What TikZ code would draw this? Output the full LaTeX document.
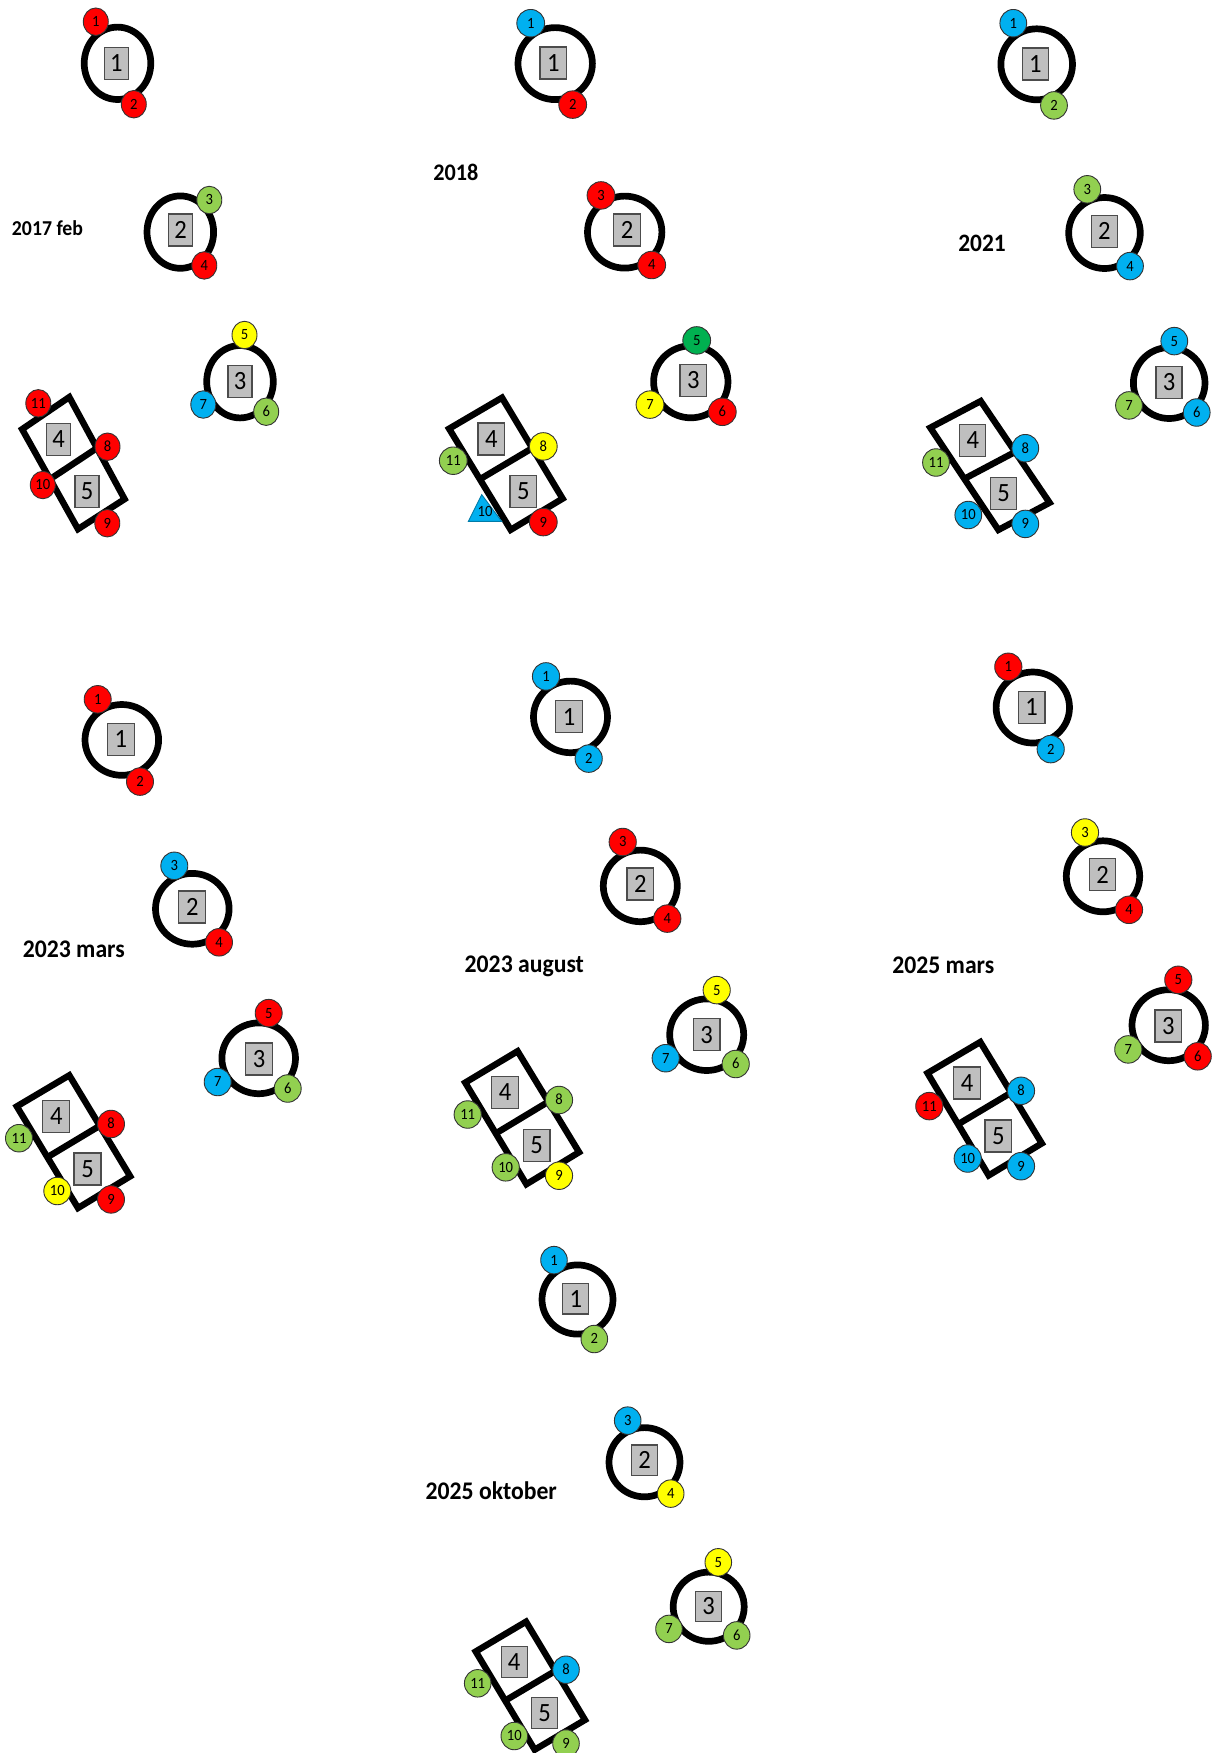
\documentclass[tikz,border=0pt]{standalone}
\usepackage{fontspec}
\setmainfont{Carlito}
\usetikzlibrary{shapes.geometric,calc}
\definecolor{cred}{HTML}{FF0000}
\definecolor{cgreen}{HTML}{92D050}
\definecolor{cblue}{HTML}{00B0F0}
\definecolor{cyellow}{HTML}{FFFF00}
\definecolor{cdgreen}{HTML}{00B050}
\definecolor{sqgray}{HTML}{BFBFBF}
\newcommand\DiaRing[3]{\node[ring] (#1) at (#2,#3) {};}
\newcommand\DiaSq[4]{\node[sq] (#1) at (#2,#3) {#4};}
\newcommand\DiaDot[5]{\node[dot,fill=#5] (#1) at (#2,#3) {#4};}
\newcommand\DiaRect[9]{%
  \coordinate (#1T) at (#2,#3);
  \coordinate (#1R) at (#4,#5);
  \coordinate (#1B) at (#6,#7);
  \coordinate (#1L) at (#8,#9);
  \draw[frame] (#1T) -- (#1R) -- (#1B) -- (#1L) -- cycle;
  \draw[frame] ($(#1L)!0.5!(#1B)$) -- ($(#1T)!0.5!(#1R)$);}
\newcommand\Tall[1]{\scalebox{1}[1.07]{#1}}
\begin{document}
\begin{tikzpicture}[x=0.5pt,y=-0.5pt,
  ringbase/.style={ellipse,draw=black,line width=3.35pt,inner sep=0pt},
  sqbase/.style={rectangle,draw=black!70,fill=sqgray,line width=0.6pt,inner sep=0pt,minimum height=16pt,font=\fontsize{12.3pt}{12pt}\selectfont,text height=8.3pt,text depth=0pt},
  dotbase/.style={ellipse,draw=black!80,line width=0.45pt,inner sep=0pt,minimum height=13.75pt,font=\fontsize{7.3pt}{7pt}\selectfont,text height=4.9pt,text depth=0pt},
  frame/.style={draw=black,line width=3.2pt,line join=miter},
  yearlabel/.style={inner sep=0pt,text depth=0pt}]
\fill[white] (0,0) rectangle (1216,1753);
\useasboundingbox (0,0) rectangle (1216,1753);

% ---------- Panel 1: 2017 feb ----------
\begin{scope}[ring/.style={ringbase,minimum width=33.3pt,minimum height=36.2pt},
  sq/.style={sqbase,minimum width=12pt}, dot/.style={dotbase,minimum width=12.5pt}]
\DiaRect{p1r}{69.3}{397.1}{124.6}{499.1}{78}{529.1}{22.1}{429.2}
\DiaRing{p1a}{117.5}{63.3}
\DiaRing{p1b}{180.3}{232.1}
\DiaRing{p1c}{240}{381.7}
\DiaSq{p1s1}{116.3}{63.2}{\Tall{1}}
\DiaSq{p1s2}{180.5}{230}{\Tall{2}}
\DiaSq{p1s3}{240}{381.2}{\Tall{3}}
\DiaSq{p1s4}{58.7}{439.2}{\Tall{4}}
\DiaSq{p1s5}{87}{491.5}{\Tall{5}}
\DiaDot{p1d1}{95.8}{21.7}{\Tall{1}}{cred}
\DiaDot{p1d2}{133.8}{104.2}{\Tall{2}}{cred}
\DiaDot{p1d3}{209.3}{200}{\Tall{3}}{cgreen}
\DiaDot{p1d4}{204.3}{265.4}{\Tall{4}}{cred}
\DiaDot{p1d5}{244.5}{335}{\Tall{5}}{cyellow}
\DiaDot{p1d6}{266.2}{411.7}{\Tall{6}}{cgreen}
\DiaDot{p1d7}{203.3}{404.5}{\Tall{7}}{cblue}
\DiaDot{p1d8}{107.5}{446.7}{\Tall{8}}{cred}
\DiaDot{p1d9}{107.3}{523.2}{\Tall{9}}{cred}
\DiaDot{p1d10}{42.8}{485}{\Tall{10}}{cred}
\DiaDot{p1d11}{38.3}{403.3}{\Tall{11}}{cred}
\node[yearlabel,font=\bfseries\fontsize{9.9pt}{10pt}\selectfont,text height=6.8pt] (lab1) at (47.5,228.6) {\Tall{2017 feb}};
\end{scope}

% ---------- Panel 2: 2018 ----------
\begin{scope}[ring/.style={ringbase,minimum width=37.2pt,minimum height=36pt},
  sq/.style={sqbase,minimum width=13.35pt}, dot/.style={dotbase,minimum width=13.9pt}]
\DiaRect{p2r}{502}{397.7}{562.6}{498.6}{510.7}{529.8}{449.1}{428.7}
\DiaRing{p2a}{555.2}{63.6}
\DiaRing{p2b}{624.7}{232.1}
\DiaRing{p2c}{690.8}{381.8}
\DiaSq{p2s1}{553.3}{63}{\Tall{1}}
\DiaSq{p2s2}{627}{230}{\Tall{2}}
\DiaSq{p2s3}{693.3}{380.4}{\Tall{3}}
\DiaSq{p2s4}{491.3}{438.9}{\Tall{4}}
\DiaSq{p2s5}{523.3}{491.4}{\Tall{5}}
\DiaDot{p2d1}{530.7}{23.2}{\Tall{1}}{cblue}
\DiaDot{p2d2}{572.7}{104.6}{\Tall{2}}{cred}
\DiaDot{p2d3}{601}{195.4}{\Tall{3}}{cred}
\DiaDot{p2d4}{651.7}{265}{\Tall{4}}{cred}
\DiaDot{p2d5}{696.7}{340.4}{\Tall{5}}{cdgreen}
\DiaDot{p2d6}{722.3}{411.8}{\Tall{6}}{cred}
\DiaDot{p2d7}{650}{404.6}{\Tall{7}}{cyellow}
\DiaDot{p2d8}{543.3}{446.4}{\Tall{8}}{cyellow}
\DiaDot{p2d9}{543.3}{522.1}{\Tall{9}}{cred}
\DiaDot{p2d11}{453.3}{460.7}{\Tall{11}}{cgreen}
\coordinate (p2t1) at (481.7,494.6);
\coordinate (p2t2) at (501.7,521.4);
\coordinate (p2t3) at (468.3,521.4);
\filldraw[fill=cblue,draw=cblue!70!black,line width=0.45pt] (p2t1) -- (p2t2) -- (p2t3) -- cycle;
\node[inner sep=0pt,font=\fontsize{7.3pt}{7pt}\selectfont,text height=4.9pt,text depth=0pt] (p2d10) at (485,511.4) {\Tall{10}};
\node[yearlabel,font=\bfseries\fontsize{11.1pt}{12pt}\selectfont,text height=7.6pt] (lab2) at (455.8,173.2) {\Tall{2018}};
\end{scope}

% ---------- Panel 3: 2021 ----------
\begin{scope}[ring/.style={ringbase,minimum width=35.8pt,minimum height=35.5pt},
  sq/.style={sqbase,minimum width=13pt}, dot/.style={dotbase,minimum width=13.4pt}]
\DiaRect{p3r}{980.7}{401.1}{1049.6}{502.7}{998.4}{529.9}{930.3}{427.7}
\DiaRing{p3a}{1036.7}{64.3}
\DiaRing{p3b}{1104.5}{233}
\DiaRing{p3c}{1169.2}{383}
\DiaSq{p3s1}{1035.3}{63.9}{\Tall{1}}
\DiaSq{p3s2}{1104.3}{231.4}{\Tall{2}}
\DiaSq{p3s3}{1169}{382.1}{\Tall{3}}
\DiaSq{p3s4}{972.8}{440.4}{\Tall{4}}
\DiaSq{p3s5}{1003.7}{493.2}{\Tall{5}}
\DiaDot{p3d1}{1013.3}{23.2}{\Tall{1}}{cblue}
\DiaDot{p3d2}{1054}{105.4}{\Tall{2}}{cgreen}
\DiaDot{p3d3}{1087.3}{189.3}{\Tall{3}}{cgreen}
\DiaDot{p3d4}{1130}{266.1}{\Tall{4}}{cblue}
\DiaDot{p3d5}{1174.3}{341.1}{\Tall{5}}{cblue}
\DiaDot{p3d6}{1196.7}{412.5}{\Tall{6}}{cblue}
\DiaDot{p3d7}{1129}{405.4}{\Tall{7}}{cgreen}
\DiaDot{p3d8}{1025.3}{448.2}{\Tall{8}}{cblue}
\DiaDot{p3d9}{1025.3}{523.9}{\Tall{9}}{cblue}
\DiaDot{p3d10}{968.3}{515}{\Tall{10}}{cblue}
\DiaDot{p3d11}{936}{462.5}{\Tall{11}}{cgreen}
\node[yearlabel,font=\bfseries\fontsize{11.7pt}{12pt}\selectfont,text height=8pt] (lab3) at (982,243.9) {\Tall{2021}};
\end{scope}

% ---------- Panel 4: 2023 mars ----------
\begin{scope}[ring/.style={ringbase,minimum width=36.8pt,minimum height=35.4pt},
  sq/.style={sqbase,minimum width=13.5pt}, dot/.style={dotbase,minimum width=13.5pt}]
\DiaRect{p4r}{69.3}{1075.3}{130.2}{1176.3}{78}{1208}{16.8}{1106.4}
\DiaRing{p4a}{121.8}{739.9}
\DiaRing{p4b}{192.3}{908.8}
\DiaRing{p4c}{258.7}{1058.3}
\DiaSq{p4s1}{120.8}{739.5}{\Tall{1}}
\DiaSq{p4s2}{192.3}{906.9}{\Tall{2}}
\DiaSq{p4s3}{259}{1059}{\Tall{3}}
\DiaSq{p4s4}{56.3}{1116.6}{\Tall{4}}
\DiaSq{p4s5}{87.5}{1169}{\Tall{5}}
\DiaDot{p4d1}{97.7}{699.3}{\Tall{1}}{cred}
\DiaDot{p4d2}{140}{781.6}{\Tall{2}}{cred}
\DiaDot{p4d3}{174.3}{865.8}{\Tall{3}}{cblue}
\DiaDot{p4d4}{219}{942.3}{\Tall{4}}{cred}
\DiaDot{p4d5}{268.7}{1013.1}{\Tall{5}}{cred}
\DiaDot{p4d6}{287.7}{1088.5}{\Tall{6}}{cgreen}
\DiaDot{p4d7}{217.7}{1082}{\Tall{7}}{cblue}
\DiaDot{p4d8}{111}{1124}{\Tall{8}}{cred}
\DiaDot{p4d9}{111}{1199.4}{\Tall{9}}{cred}
\DiaDot{p4d10}{57.3}{1191}{\Tall{10}}{cyellow}
\DiaDot{p4d11}{19}{1138.2}{\Tall{11}}{cgreen}
\node[yearlabel,font=\bfseries\fontsize{11.85pt}{12pt}\selectfont,text height=8.1pt] (lab4) at (73.8,949.2) {\Tall{2023 mars}};
\end{scope}

% ---------- Panel 5: 2023 august ----------
\begin{scope}[ring/.style={ringbase,minimum width=37pt,minimum height=35.8pt},
  sq/.style={sqbase,minimum width=13.35pt}, dot/.style={dotbase,minimum width=13.6pt}]
\DiaRect{p5r}{517.6}{1051.2}{579.1}{1152.2}{526.4}{1184.2}{465.2}{1082.6}
\DiaRing{p5a}{570.5}{716.9}
\DiaRing{p5b}{640.3}{885.9}
\DiaRing{p5c}{706.7}{1034.7}
\DiaSq{p5s1}{569}{716.7}{\Tall{1}}
\DiaSq{p5s2}{640.3}{883.9}{\Tall{2}}
\DiaSq{p5s3}{706.7}{1034.7}{\Tall{3}}
\DiaSq{p5s4}{505}{1092.5}{\Tall{4}}
\DiaSq{p5s5}{536.7}{1145.5}{\Tall{5}}
\DiaDot{p5d1}{546}{676.4}{\Tall{1}}{cblue}
\DiaDot{p5d2}{588.7}{758.6}{\Tall{2}}{cblue}
\DiaDot{p5d3}{622.7}{842}{\Tall{3}}{cred}
\DiaDot{p5d4}{667.3}{918.6}{\Tall{4}}{cred}
\DiaDot{p5d5}{716.7}{990.1}{\Tall{5}}{cyellow}
\DiaDot{p5d6}{735.7}{1064}{\Tall{6}}{cgreen}
\DiaDot{p5d7}{665.7}{1058.2}{\Tall{7}}{cblue}
\DiaDot{p5d8}{559}{1100}{\Tall{8}}{cgreen}
\DiaDot{p5d9}{559}{1175.7}{\Tall{9}}{cyellow}
\DiaDot{p5d10}{505.7}{1167.3}{\Tall{10}}{cgreen}
\DiaDot{p5d11}{467.7}{1114.5}{\Tall{11}}{cgreen}
\node[yearlabel,font=\bfseries\fontsize{11.85pt}{12pt}\selectfont,text height=8.1pt] (lab5) at (524.3,964.5) {\Tall{2023 august}};
\end{scope}

% ---------- Panel 6: 2025 mars ----------
\begin{scope}[ring/.style={ringbase,minimum width=36.7pt,minimum height=35.5pt},
  sq/.style={sqbase,minimum width=13.35pt}, dot/.style={dotbase,minimum width=13.6pt}]
\DiaRect{p6r}{980.3}{1042}{1041.8}{1143.4}{988.7}{1175.4}{927.5}{1073.1}
\DiaRing{p6a}{1032.8}{707.5}
\DiaRing{p6b}{1103}{876.3}
\DiaRing{p6c}{1168.7}{1025.2}
\DiaSq{p6s1}{1031.7}{707.2}{\Tall{1}}
\DiaSq{p6s2}{1102.5}{874.8}{\Tall{2}}
\DiaSq{p6s3}{1168.3}{1025.9}{\Tall{3}}
\DiaSq{p6s4}{967}{1082.9}{\Tall{4}}
\DiaSq{p6s5}{998.3}{1135.9}{\Tall{5}}
\DiaDot{p6d1}{1008.3}{666.8}{\Tall{1}}{cred}
\DiaDot{p6d2}{1050.7}{749.1}{\Tall{2}}{cblue}
\DiaDot{p6d3}{1085}{832.5}{\Tall{3}}{cyellow}
\DiaDot{p6d4}{1129}{909.8}{\Tall{4}}{cred}
\DiaDot{p6d5}{1178.3}{979.8}{\Tall{5}}{cred}
\DiaDot{p6d6}{1197.7}{1056.3}{\Tall{6}}{cred}
\DiaDot{p6d7}{1128.3}{1049.4}{\Tall{7}}{cgreen}
\DiaDot{p6d8}{1021}{1090.8}{\Tall{8}}{cblue}
\DiaDot{p6d9}{1021}{1166.2}{\Tall{9}}{cblue}
\DiaDot{p6d10}{967.7}{1158.5}{\Tall{10}}{cblue}
\DiaDot{p6d11}{929.3}{1106.1}{\Tall{11}}{cred}
\node[yearlabel,font=\bfseries\fontsize{11.85pt}{12pt}\selectfont,text height=8.1pt] (lab6) at (943.3,965.3) {\Tall{2025 mars}};
\end{scope}

% ---------- Panel 7: 2025 oktober ----------
\begin{scope}[ring/.style={ringbase,minimum width=35.5pt,minimum height=34.6pt},
  sq/.style={sqbase,minimum width=13pt,minimum height=15.3pt}, dot/.style={dotbase,minimum width=13.3pt}]
\DiaRect{p7r}{526}{1621.7}{585}{1719.9}{534.7}{1749.7}{475.7}{1651.5}
\DiaRing{p7a}{577.5}{1299.5}
\DiaRing{p7b}{644.5}{1462.2}
\DiaRing{p7c}{708.7}{1606.7}
\DiaSq{p7s1}{575.8}{1298.7}{\Tall{1}}
\DiaSq{p7s2}{644.7}{1460.3}{\Tall{2}}
\DiaSq{p7s3}{708.7}{1606.5}{\Tall{3}}
\DiaSq{p7s4}{514.2}{1661.9}{\Tall{4}}
\DiaSq{p7s5}{544.5}{1712.9}{\Tall{5}}
\DiaDot{p7d1}{554}{1260.1}{\Tall{1}}{cblue}
\DiaDot{p7d2}{594.3}{1339}{\Tall{2}}{cgreen}
\DiaDot{p7d3}{627.7}{1420.6}{\Tall{3}}{cblue}
\DiaDot{p7d4}{670.7}{1493.6}{\Tall{4}}{cyellow}
\DiaDot{p7d5}{718.3}{1562.3}{\Tall{5}}{cyellow}
\DiaDot{p7d6}{736.7}{1635.4}{\Tall{6}}{cgreen}
\DiaDot{p7d7}{669}{1628.9}{\Tall{7}}{cgreen}
\DiaDot{p7d8}{566}{1669.7}{\Tall{8}}{cblue}
\DiaDot{p7d9}{566}{1743.5}{\Tall{9}}{cgreen}
\DiaDot{p7d10}{514.3}{1736}{\Tall{10}}{cgreen}
\DiaDot{p7d11}{477.7}{1683.3}{\Tall{11}}{cgreen}
\node[yearlabel,font=\bfseries\fontsize{11.85pt}{12pt}\selectfont,text height=8.1pt] (lab7) at (491.2,1490.9) {\Tall{2025 oktober}};
\end{scope}
\end{tikzpicture}
\end{document}
